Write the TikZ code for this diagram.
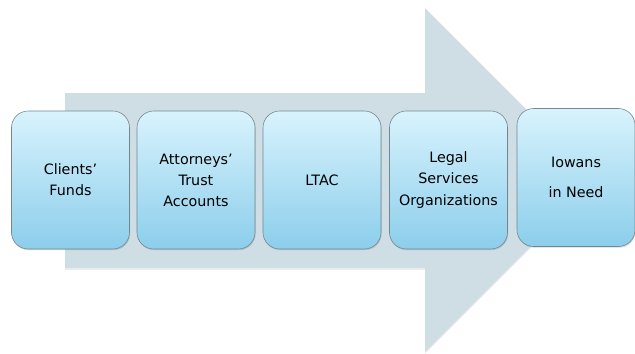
\documentclass[tikz,border=0pt]{standalone}
\usepackage{fontspec}
\setmainfont{DejaVu Sans}
\usetikzlibrary{shadows}

\definecolor{arrowfill}{RGB}{207,221,228}
\definecolor{boxtop}{RGB}{216,243,253}
\definecolor{boxbottom}{RGB}{140,206,235}
\definecolor{boxline}{RGB}{115,135,145}

\begin{document}
\begin{tikzpicture}[x=0.03cm,y=-0.03cm,
  stage/.style={rectangle,rounded corners=0.5cm,draw=boxline,line width=0.5pt,
    top color=boxtop,bottom color=boxbottom,
    minimum width=3.54cm,minimum height=4.14cm,align=center,
    font=\fontsize{12.2}{18}\selectfont,
    drop shadow={opacity=0.3,shadow xshift=0.6pt,shadow yshift=-1pt}}]
\useasboundingbox (0,0) rectangle (635,353);

% big flow arrow behind the boxes
\fill [arrowfill,drop shadow={opacity=0.15,shadow xshift=0pt,shadow yshift=-1.5pt}]
  (65,93) -- (425,93) -- (425,8) -- (597,180) -- (425,352) -- (425,268) -- (65,268) -- cycle;

\node[stage] (funds) at (70.5,180) {Clients’\\Funds};
\node[stage] (trust) at (196,180) {Attorneys’\\Trust\\Accounts};
\node[stage] (ltac) at (322,180) {LTAC};
\node[stage] (legal) at (448.5,180) {Legal\\Services\\Organizations};
\node[stage] (iowans) at (576,177.5) {Iowans\\[7.5pt]in Need};

\end{tikzpicture}
\end{document}
